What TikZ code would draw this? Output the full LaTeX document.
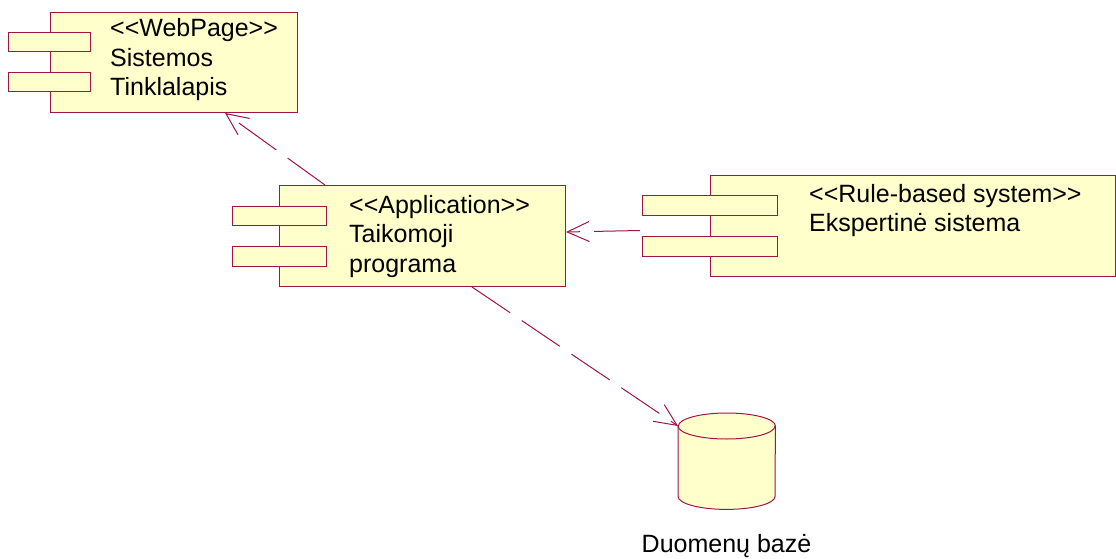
\documentclass[tikz,border=0pt]{standalone}
\usepackage{fontspec}
\setmainfont{Liberation Sans}
\usetikzlibrary{arrows.meta,calc}
\definecolor{umlline}{RGB}{160,20,70}
\definecolor{umlfill}{RGB}{255,255,204}
\begin{document}
\begin{tikzpicture}[x=1pt,y=-1pt,
  body/.style={draw=umlline, fill=umlfill, line width=1pt, inner sep=0pt, anchor=north west},
  ctext/.style={anchor=base west, align=left, inner sep=0pt, font=\fontsize{25}{29.5}\selectfont},
  dep/.style={draw=umlline, line width=1pt, dash pattern=on 46pt off 14pt,
    -{Straight Barb[length=22pt,width=20pt]}}]
\useasboundingbox (0,0) rectangle (1116,559);

% web page component (text anchored at the baseline of its last line)
\node[body, minimum width=247pt, minimum height=100pt] (web) at (50,12) {};
\node[body, minimum width=82pt, minimum height=19pt] (webp1) at (8,32) {};
\node[body, minimum width=82pt, minimum height=19pt] (webp2) at (8,72) {};
\node[ctext] (webtext) at (110,96) {<\kern0pt<WebPage>\kern0pt>\\Sistemos\\Tinklalapis};

% application component
\node[body, minimum width=286pt, minimum height=101pt] (app) at (279,185) {};
\node[body, minimum width=94pt, minimum height=19pt] (appp1) at (232,206) {};
\node[body, minimum width=94pt, minimum height=20pt] (appp2) at (232,246) {};
\node[ctext] (apptext) at (349,272) {<\kern0pt<Application>\kern0pt>\\Taikomoji\\programa};

% rule-based system component
\node[body, minimum width=405pt, minimum height=101pt] (rule) at (710,175) {};
\node[body, minimum width=135pt, minimum height=20pt] (rulep1) at (642,195) {};
\node[body, minimum width=135pt, minimum height=20pt] (rulep2) at (642,236) {};
\node[ctext] (ruletext) at (809,231.5) {<\kern0pt<Rule-based system>\kern0pt>\\Ekspertinė sistema};

% database
\node[inner sep=0pt, minimum width=97pt, minimum height=96pt, anchor=north west] (db) at (678,413) {};
\path[draw=umlline, fill=umlfill, line width=1pt]
  ($(db.north west)+(0,13)$) -- ($(db.south west)+(0,-13)$)
  arc[start angle=180, end angle=360, x radius=48.5pt, y radius=13pt]
  -- ($(db.north east)+(0,13)$)
  arc[start angle=0, end angle=180, x radius=48.5pt, y radius=13pt] -- cycle;
\draw[umlline, line width=1pt] ($(db.north west)+(0,13)$)
  arc[start angle=180, end angle=360, x radius=48.5pt, y radius=13pt];
\node[anchor=base, inner sep=0pt, font=\fontsize{25}{29.5}\selectfont] (dblabel) at (726.5,552) {Duomenų bazė};

% dependencies
\draw[dep] ($(app.north west)+(46,0)$) -- ($(web.south west)+(175,0)$);
\draw[dep] ($(rule.west)+(-70,4.5)$) -- ($(app.east)+(0,-4)$);
\draw[dep] ($(app.south west)+(193,0)$) -- ($(db.north west)+(0,13)$);
\end{tikzpicture}
\end{document}
